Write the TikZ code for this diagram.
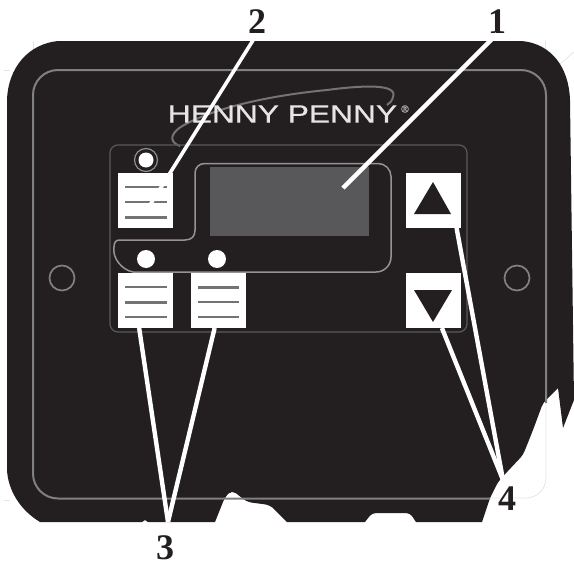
\documentclass[tikz,border=0pt]{standalone}
\usepackage{xcolor}
\usepackage{fontspec}
\setmainfont{Liberation Serif}
\newfontfamily\logofont[FakeBold=0.6]{Liberation Sans}
\usetikzlibrary{arrows.meta, positioning}
\definecolor{panelblack}{HTML}{231F20}
\definecolor{screengrey}{HTML}{58585A}
\tikzset{
  keybox/.style={draw=none, fill=white, minimum size=55pt, inner sep=0pt, outer sep=0pt},
  keybar/.style={draw=black!55, line width=1.3pt},
  keybarthick/.style={draw=black!55, line width=3pt},
  trimline/.style={draw=black!50, line width=2pt},
  ghostline/.style={draw=black!10, line width=0.8pt},
  leader/.style={draw=white, line width=4.4pt},
  callout/.style={font=\fontsize{36}{36}\selectfont\bfseries, inner sep=0pt, outer sep=0pt, text=panelblack},
}
\begin{document}
\begin{tikzpicture}[x=1pt, y=-1pt]
  \useasboundingbox (0,0) rectangle (574,565);
  % ---------- CROP MARKS ----------
  \draw[ghostline] (33,41) -- (33,50);
  \draw[ghostline] (4,70) -- (10,70);
  \draw[ghostline] (4,500) -- (10,500);
  \draw[ghostline] (545,41) -- (545,50);
  \draw[ghostline] (574,52) -- (546,76);
  % ---------- PANEL ----------
  \fill[panelblack] (58,41) -- (522,41)
    .. controls (552,44) and (569,68) .. (570,100)
    -- (574,400) -- (563,428) -- (558,388)
    [rounded corners=4pt] -- (543,403) -- (533,430) -- (523,455) -- (507,472) -- (498,482) -- (490,498) [sharp corners] -- (482,522)
    -- (416,522) [rounded corners=4pt] -- (410,513) -- (372,513) [sharp corners] -- (365,522)
    -- (287,522) [rounded corners=5pt] -- (270,505) -- (247,502) -- (232,490) -- (225,497) [sharp corners] -- (215,522)
    -- (148,522) -- (145,520) -- (142,522)
    -- (40,522) .. controls (20,510) and (8,490) .. (7,470)
    -- (7,100) .. controls (8,68) and (28,44) .. (58,41) -- cycle;
  % ghost of the trim line on the torn corner
  \draw[ghostline] (546,403) -- (546,478) arc (0:90:20) -- (490,498);
  \draw[trimline] (490,498.5) -- (58,498.5) arc (90:180:25) -- (33,95) arc (180:270:25)
    -- (521,70) arc (270:360:25) -- (546,403);
  % ---------- SCREW HOLES ----------
  \draw[black!50, line width=1.7pt] (62,278) circle (12.5pt);
  \draw[black!50, line width=1.7pt] (517,278) circle (12.5pt);
  % ---------- LOGO ----------
  \draw[black!55, line width=2pt] (180,146) .. controls (168,142) and (170,132) .. (186,124)
    .. controls (220,106) and (275,95) .. (327,90)
    .. controls (365,85) and (398,84) .. (393,97) .. controls (392,101) and (390,103) .. (387,105);
  \node[inner sep=0pt, text=black!10] (logo) at (282.5,114)
    {\scalebox{1.27}[1]{\logofont\fontsize{25}{25}\selectfont HENNY PENNY}};
  \node[inner sep=0pt, text=black!30, font=\logofont\fontsize{10}{10}\selectfont] (regmark) at (405,109) {®};
  % ---------- KEYPAD ----------
  \draw[black!65, line width=1.2pt] (118,145) -- (459,145) arc (270:360:8) -- (467,324) arc (0:90:8)
    -- (118,332) arc (90:180:8) -- (110,153) arc (180:270:8) -- cycle;
  \draw[black!42, line width=1.5pt] (205,163.5) -- (378,163.5) arc (270:360:13) -- (391,257)
    arc (0:90:15) -- (133,272) .. controls (122,270) and (112,258) .. (114,247)
    .. controls (114,242) and (116,240) .. (120,240) -- (185,240)
    .. controls (192,240) and (195,236) .. (195,230) -- (195,173) arc (180:270:9.5) -- (205,163.5);
  \fill[screengrey] (210,167) rectangle (369,236);
  % lamps
  \fill[white] (146,160) circle (7.5pt);
  \draw[black!45, line width=1.2pt] (146,160) circle (11.5pt);
  \fill[white] (146,259) circle (9pt);
  \fill[white] (217,259) circle (9pt);
  % keys
  \node[keybox] (modekey) at (145.5,200.5) {};
  \node[keybox] (leftkey) at (145.5,300.5) {};
  \node[keybox] (midkey) at (218,300.5) {};
  \node[keybox] (upkey) at (433.5,200.5) {};
  \node[keybox] (downkey) at (433.5,300.5) {};
  \draw[keybar] (125,187) -- (167,187);
  \draw[keybar, line width=2pt] (125,202) -- (167,202);
  \draw[keybarthick] (125,217) -- (167,217);
  \draw[keybar] (125,287) -- (167,287);
  \draw[keybarthick] (125,302) -- (167,302);
  \draw[keybar] (125,317) -- (167,317);
  \draw[keybarthick] (198,287) -- (239,287);
  \draw[keybar] (198,302) -- (239,302);
  \draw[keybar] (198,317) -- (239,317);
  \fill[panelblack] (433,182) -- (451,214) -- (414,214) -- cycle;
  \fill[panelblack] (414,290) -- (452,290) -- (433,322) -- cycle;
  % ---------- CALLOUTS ----------
  \node[callout] (one) at (497,22) {1};
  \node[callout] (two) at (257,22) {2};
  \node[callout] (three) at (165,548) {3};
  \node[callout] (four) at (507,499) {4};
  \coordinate (screenend) at (343,188);
  \coordinate (modeend) at (150,205);
  \coordinate (threetip) at (168,522);
  \coordinate (fourtip) at (503,480);
  \draw[leader] (one.south) -- (screenend);
  \draw[leader, line width=3.6pt] (two.south) -- (modeend);
  \draw[leader] (leftkey.-103) -- (threetip);
  \draw[leader] (midkey.-97) -- (threetip);
  \draw[leader] (upkey.-50) -- (fourtip);
  \draw[leader] (downkey.-73) -- (fourtip);
\end{tikzpicture}
\end{document}
